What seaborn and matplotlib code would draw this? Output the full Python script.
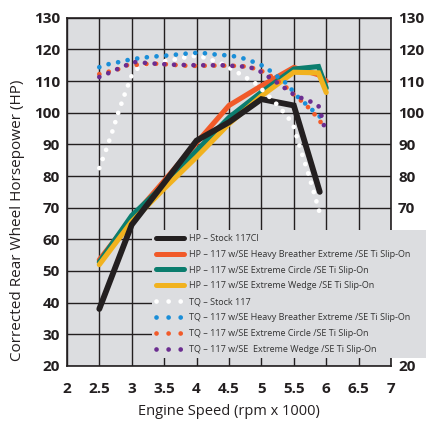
import matplotlib
matplotlib.use("Agg")
import matplotlib.pyplot as plt
from matplotlib.lines import Line2D
import seaborn as sns

# %% data
rpm_hp_stock = [2.5, 3.0, 3.5, 4.0, 4.5, 5.0, 5.5, 5.9]
hp_stock = [38, 64.6, 77.8, 91.2, 97, 104.3, 102.3, 75]

rpm_hp = [2.5, 3.0, 3.5, 4.0, 4.5, 5.0, 5.5, 5.88, 6.0]
hp_heavy = [53.5, 66.7, 78.5, 90.5, 102.3, 108.5, 114.3, 112.0, 110.0]
hp_circle = [52.8, 67.5, 77.2, 88.0, 98.5, 106.5, 113.8, 114.6, 107.8]
hp_wedge = [52.0, 65.6, 76.0, 86.0, 96.5, 105.3, 112.8, 112.6, 106.4]

rpm_tq_stock = [2.5, 2.6, 2.7, 2.8, 2.9, 3.0, 3.1, 3.2, 3.4, 3.6, 3.85, 4.0,
                4.15, 4.4, 4.65, 4.9, 5.0, 5.2, 5.4, 5.5, 5.6, 5.7, 5.8, 5.9]
tq_stock = [82.5, 88, 94, 100.5, 106.3, 111.8, 114.2, 115.2, 115.9, 116.6, 117.6, 118,
            117.3, 115.4, 112.5, 109.4, 107.5, 103.5, 98.9, 95.5, 88.7, 82.3, 75.5, 68.3]

rpm_tq_heavy = [2.5, 2.65, 2.8, 2.95, 3.1, 3.3, 3.5, 3.7, 3.9, 4.05, 4.2, 4.35, 4.5,
                4.65, 4.8, 4.92, 5.05, 5.15, 5.25, 5.38, 5.48, 5.58, 5.7, 5.8, 5.9, 5.98]
tq_heavy = [114.4, 115.4, 116, 116.7, 117.2, 117.7, 118, 118.4, 118.8, 119, 118.6, 118.3, 118.1,
            117.6, 116.7, 115.7, 114.6, 113, 111.4, 109.4, 107, 104.6, 102.5, 100.6, 98.8, 96.3]

rpm_tq_circle = [2.5, 2.65, 2.8, 2.92, 3.05, 3.2, 3.4, 3.6, 3.8, 4.0, 4.2, 4.4, 4.6,
                 4.78, 4.92, 5.05, 5.16, 5.26, 5.37, 5.47, 5.58, 5.7, 5.8, 5.9, 5.98]
tq_circle = [112.2, 113, 113.8, 115.0, 115.1, 115.4, 115.5, 115.2, 114.9, 114.8, 114.9, 114.9, 114.8,
             114.6, 113.8, 112.8, 111.4, 109.9, 108.3, 106.2, 104.4, 102.2, 100, 97.5, 94.8]

rpm_tq_wedge = [2.5, 2.65, 2.8, 2.95, 3.05, 3.3, 3.6, 4.0, 4.4, 4.8, 4.95, 5.1, 5.25,
                5.36, 5.49, 5.6, 5.75, 5.88, 5.93, 5.97, 6.02]
tq_wedge = [111.3, 112.6, 114, 115.3, 116, 115.6, 115.2, 115, 115, 114.5, 113.5, 111.5, 109.4,
            107.8, 105.9, 104.8, 103.6, 102.2, 98.8, 95.6, 93.7]

labels = [
    "HP – Stock 117CI",
    "HP – 117 w/SE Heavy Breather Extreme /SE Ti Slip-On",
    "HP – 117 w/SE Extreme Circle /SE Ti Slip-On",
    "HP – 117 w/SE Extreme Wedge /SE Ti Slip-On",
    "TQ – Stock 117",
    "TQ – 117 w/SE Heavy Breather Extreme /SE Ti Slip-On",
    "TQ – 117 w/SE Extreme Circle /SE Ti Slip-On",
    "TQ – 117 w/SE  Extreme Wedge /SE Ti Slip-On",
]

x_ticks = [2, 2.5, 3, 3.5, 4, 4.5, 5, 5.5, 6, 6.5, 7]
x_ticklabels = ["2", "2.5", "3", "3.5", "4", "4.5", "5", "5.5", "6", "6.5", "7"]
y_ticks = list(range(20, 131, 10))

# %% style
sns.set_style("white", {"axes.facecolor": "#dcdde0", "axes.edgecolor": "#231f20"})
plt.rcParams["font.family"] = ["Open Sans", "DejaVu Sans"]

INK = "#231f20"
BG = "#dcdde0"
fig = plt.figure(figsize=(4.26, 4.24), dpi=100)
ax = fig.add_axes([0.157, 0.137, 0.761, 0.821])

hp_series = [
    (rpm_hp_stock, hp_stock, INK, 0),
    (rpm_hp, hp_heavy, "#f15a29", 1),
    (rpm_hp, hp_circle, "#0b7d6e", 2),
    (rpm_hp, hp_wedge, "#f1b21f", 3),
]
tq_series = [
    (rpm_tq_stock, tq_stock, "white", 4),
    (rpm_tq_heavy, tq_heavy, "#1a8ed8", 5),
    (rpm_tq_circle, tq_circle, "#f15a29", 6),
    (rpm_tq_wedge, tq_wedge, "#6b2d90", 7),
]

# HP: thick solid lines, stock black on top
for x, y, c, i in hp_series[1:] + hp_series[:1]:
    lw = 4.2 if i == 0 else 3.7
    sns.lineplot(x=x, y=y, ax=ax, color=c, linewidth=lw, sort=False,
                 solid_capstyle="round", solid_joinstyle="miter",
                 zorder=4 if i == 0 else 3)

# TQ: round-dot lines
for x, y, c, i in tq_series:
    sns.lineplot(x=x, y=y, ax=ax, color=c, linewidth=3.4, sort=False,
                 linestyle=(0, (0.01, 2.05)), dash_capstyle="round", zorder=5)

ax.set_xlim(2, 7)
ax.set_ylim(20, 130)
ax.set_xticks(x_ticks)
ax.set_xticklabels(x_ticklabels)
ax.set_yticks(y_ticks)
ax.grid(True, color=INK, linewidth=1.0)
ax.set_axisbelow(True)
for s in ax.spines.values():
    s.set_linewidth(1.2)

ax.tick_params(axis="x", direction="out", length=6.5, width=1.2, color=INK, pad=5,
               labelsize=11, labelcolor=INK)
ax.tick_params(axis="y", length=0, pad=5, labelsize=11, labelcolor=INK,
               labelleft=True, labelright=True)
for t in ax.get_xticklabels() + ax.get_yticklabels():
    t.set_fontweight("bold")
for tick in ax.yaxis.get_major_ticks():
    tick.label1.set_fontweight("bold")
    tick.label2.set_fontweight("bold")
    # right-hand labels 30-60 sit under the legend box
    if 30 <= tick.get_loc() <= 60:
        tick.label2.set_visible(False)

ax.set_xlabel("Engine Speed (rpm x 1000)", fontsize=10.5, color=INK, labelpad=6)
ax.set_ylabel("Corrected Rear Wheel Horsepower (HP)", fontsize=11, color=INK)
ax.yaxis.set_label_coords(-0.13, 0.418)

# legend proxies in the reference order
handles = []
for _, _, c, _ in hp_series:
    handles.append(Line2D([], [], color=c, linewidth=3.6, solid_capstyle="round"))
for _, _, c, _ in tq_series:
    handles.append(Line2D([], [], color=c, linewidth=3.4, linestyle=(0, (0.01, 2.55)),
                          dash_capstyle="round"))

leg = fig.legend(handles, labels, loc="upper left",
                 bbox_to_anchor=(0.357, 0.156, 0.642, 0.302), mode="expand",
                 fontsize=6.5, frameon=True, facecolor=BG, edgecolor="none",
                 framealpha=1, fancybox=False, handlelength=3.1, handletextpad=0.5,
                 labelspacing=0.76, borderpad=0.45, borderaxespad=0)
leg.set_zorder(10)
for t in leg.get_texts():
    t.set_color("#333333")
    t.set_family(["Liberation Sans Narrow", "Open Sans", "DejaVu Sans"])

fig.savefig("out.png", dpi=100)
